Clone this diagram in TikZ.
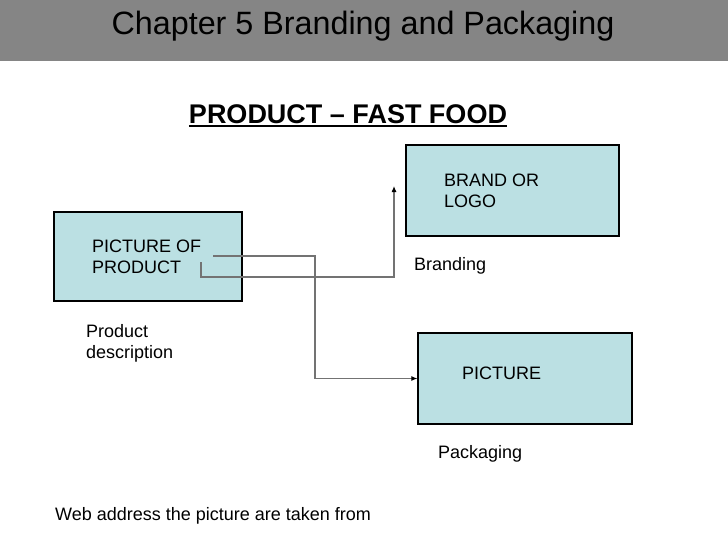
\documentclass[tikz,border=0pt]{standalone}
\usepackage{fontspec}
\setmainfont{Liberation Sans}
\usepackage{tikz}
\usetikzlibrary{arrows.meta}
\definecolor{boxfill}{RGB}{187,224,227}
\definecolor{bargray}{RGB}{133,133,133}
\definecolor{linkgray}{RGB}{115,115,115}

\begin{document}
\begin{tikzpicture}[x=1pt,y=-1pt,
  panel/.style={draw=black,fill=boxfill,line width=1.2pt,inner sep=0pt},
  label/.style={inner sep=0pt,align=left,font=\fontsize{18}{21}\selectfont},
  link/.style={draw=linkgray,line width=1.1pt},
  tip/.style={-{Latex[length=6pt,width=5pt,color=black]}}]
\useasboundingbox (0,0) rectangle (728,546);
\fill[white] (0,0) rectangle (728,546);
% title bar
\fill[bargray] (0,0) rectangle (728,61);
\node[inner sep=0pt,anchor=base,font=\fontsize{32.3}{38}\selectfont] (title) at (363,34) {Chapter 5 Branding and Packaging};
\node[inner sep=0pt,anchor=base,font=\bfseries\fontsize{27}{31}\selectfont] (heading) at (348,123) {PRODUCT \textendash{} FAST FOOD};
\draw[line width=2pt] ([yshift=-3pt]heading.base west) -- ([yshift=-3pt]heading.base east);

% boxes
\node[panel,minimum width=188pt,minimum height=89pt] (product) at (148,256.5) {};
\node[panel,minimum width=213pt,minimum height=91pt] (logo) at (512.5,190.5) {};
\node[panel,minimum width=214pt,minimum height=91pt] (pack) at (525,378.5) {};

\node[label,anchor=north west] (producttext) at (92,240) {PICTURE OF\\PRODUCT};
\node[label,anchor=north west] (logotext) at (444,174) {BRAND OR\\LOGO};
\node[label,anchor=north west] (packtext) at (462,367) {PICTURE};

\node[label,anchor=base west] (branding) at (414,270) {Branding};
\node[label,anchor=base west] (packaging) at (438,458) {Packaging};
\node[label,anchor=north west] (descr) at (86,324) {Product\\description};
\node[label,anchor=base west] (web) at (55,520) {Web address the picture are taken from};

% connectors
\coordinate (from1) at (213,256);
\coordinate (bend1) at (315,256);
\draw[link,tip] (from1) -- (bend1) |- (pack.west);
\coordinate (from2) at (201,262);
\coordinate (bend2) at (201,277);
\coordinate (to2) at (394,186);
\draw[link,tip] (from2) -- (bend2) -| (to2);
\end{tikzpicture}
\end{document}
